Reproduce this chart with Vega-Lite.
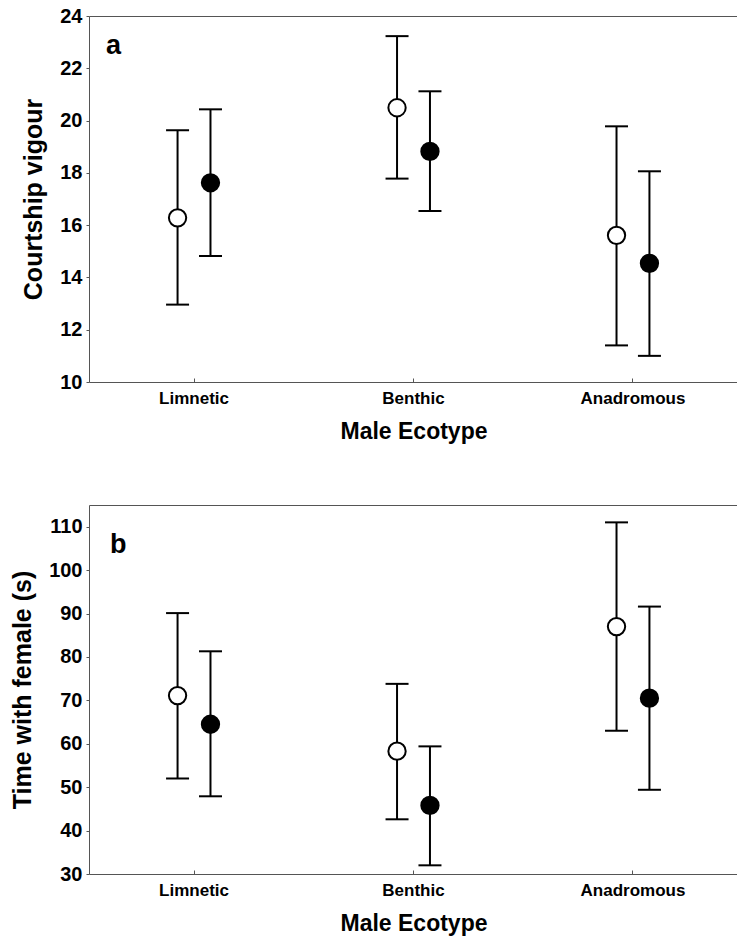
{
  "$schema": "https://vega.github.io/schema/vega-lite/v6.json",
  "padding": {"left": 10, "top": 5, "right": 0, "bottom": 0},
  "background": "white",
  "spacing": 60,
  "config": {
    "font": "Liberation Sans",
    "view": {"stroke": "#555555", "strokeWidth": 1},
    "axis": {
      "domain": false,
      "grid": false,
      "labelColor": "black",
      "titleColor": "black",
      "labelFontWeight": "bold",
      "titleFontWeight": "bold",
      "tickColor": "#555555"
    },
    "axisY": {"labelFontSize": 20, "titleFontSize": 25, "tickSize": 3, "labelPadding": 4, "titlePadding": 13},
    "axisX": {"labelFontSize": 17, "titleFontSize": 23, "labelAngle": 0, "tickSize": -4, "labelPadding": 12, "titlePadding": 14},
    "title": {"fontSize": 27, "fontWeight": "bold", "color": "black", "anchor": "start", "baseline": "alphabetic", "frame": "group"}
  },
  "datasets": {
    "courtship": [
      {"ecotype": "Limnetic", "group": "open", "mean": 16.28, "lo": 12.96, "hi": 19.63},
      {"ecotype": "Limnetic", "group": "filled", "mean": 17.62, "lo": 14.82, "hi": 20.43},
      {"ecotype": "Benthic", "group": "open", "mean": 20.49, "lo": 17.78, "hi": 23.23},
      {"ecotype": "Benthic", "group": "filled", "mean": 18.82, "lo": 16.54, "hi": 21.12},
      {"ecotype": "Anadromous", "group": "open", "mean": 15.61, "lo": 11.4, "hi": 19.78},
      {"ecotype": "Anadromous", "group": "filled", "mean": 14.54, "lo": 11.0, "hi": 18.06}
    ],
    "time": [
      {"ecotype": "Limnetic", "group": "open", "mean": 71.1, "lo": 52.0, "hi": 90.1},
      {"ecotype": "Limnetic", "group": "filled", "mean": 64.5, "lo": 47.9, "hi": 81.3},
      {"ecotype": "Benthic", "group": "open", "mean": 58.3, "lo": 42.6, "hi": 73.8},
      {"ecotype": "Benthic", "group": "filled", "mean": 45.8, "lo": 32.0, "hi": 59.4},
      {"ecotype": "Anadromous", "group": "open", "mean": 87.0, "lo": 63.0, "hi": 111.0},
      {"ecotype": "Anadromous", "group": "filled", "mean": 70.5, "lo": 49.4, "hi": 91.6}
    ]
  },
  "vconcat": [
    {
      "width": 649,
      "height": 366,
      "data": {"name": "courtship"},
      "title": {"text": "a", "offset": -54, "dx": 17},
      "encoding": {
        "x": {"field": "ecotype", "type": "nominal", "sort": ["Limnetic", "Benthic", "Anadromous"], "scale": {"paddingInner": 0.7, "paddingOuter": 0.3285}, "title": "Male Ecotype"},
        "xOffset": {"field": "group", "type": "nominal", "sort": ["open", "filled"]}
      },
      "layer": [
        {
          "mark": {"type": "rule", "strokeWidth": 2, "color": "black"},
          "encoding": {
            "y": {"field": "lo", "type": "quantitative", "title": "Courtship vigour", "scale": {"domain": [10, 24], "nice": false, "zero": false}, "axis": {"values": [10, 12, 14, 16, 18, 20, 22, 24]}},
            "y2": {"field": "hi"}
          }
        },
        {
          "mark": {"type": "tick", "thickness": 2, "size": 23, "color": "black", "opacity": 1},
          "encoding": {"y": {"field": "lo", "type": "quantitative", "title": "Courtship vigour"}}
        },
        {
          "mark": {"type": "tick", "thickness": 2, "size": 23, "color": "black", "opacity": 1},
          "encoding": {"y": {"field": "hi", "type": "quantitative", "title": "Courtship vigour"}}
        },
        {
          "mark": {"type": "point", "shape": "circle", "filled": true, "size": 300, "stroke": "black", "strokeWidth": 2, "opacity": 1},
          "encoding": {
            "y": {"field": "mean", "type": "quantitative", "title": "Courtship vigour"},
            "fill": {"field": "group", "type": "nominal", "scale": {"domain": ["open", "filled"], "range": ["white", "black"]}, "legend": null}
          }
        }
      ]
    },
    {
      "width": 649,
      "height": 369,
      "data": {"name": "time"},
      "title": {"text": "b", "offset": -54, "dx": 21},
      "encoding": {
        "x": {"field": "ecotype", "type": "nominal", "sort": ["Limnetic", "Benthic", "Anadromous"], "scale": {"paddingInner": 0.7, "paddingOuter": 0.3285}, "title": "Male Ecotype"},
        "xOffset": {"field": "group", "type": "nominal", "sort": ["open", "filled"]}
      },
      "layer": [
        {
          "mark": {"type": "rule", "strokeWidth": 2, "color": "black"},
          "encoding": {
            "y": {"field": "lo", "type": "quantitative", "title": "Time with female (s)", "scale": {"domain": [30, 115], "nice": false, "zero": false}, "axis": {"values": [30, 40, 50, 60, 70, 80, 90, 100, 110]}},
            "y2": {"field": "hi"}
          }
        },
        {
          "mark": {"type": "tick", "thickness": 2, "size": 23, "color": "black", "opacity": 1},
          "encoding": {"y": {"field": "lo", "type": "quantitative", "title": "Time with female (s)"}}
        },
        {
          "mark": {"type": "tick", "thickness": 2, "size": 23, "color": "black", "opacity": 1},
          "encoding": {"y": {"field": "hi", "type": "quantitative", "title": "Time with female (s)"}}
        },
        {
          "mark": {"type": "point", "shape": "circle", "filled": true, "size": 300, "stroke": "black", "strokeWidth": 2, "opacity": 1},
          "encoding": {
            "y": {"field": "mean", "type": "quantitative", "title": "Time with female (s)"},
            "fill": {"field": "group", "type": "nominal", "scale": {"domain": ["open", "filled"], "range": ["white", "black"]}, "legend": null}
          }
        }
      ]
    }
  ]
}
